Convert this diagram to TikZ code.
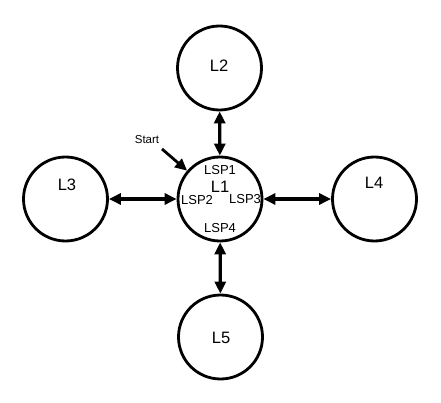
\documentclass[tikz,border=0pt]{standalone}
\usepackage{fontspec}
\setmainfont{Liberation Sans}
\usetikzlibrary{arrows.meta}
\begin{document}
\begin{tikzpicture}[x=1pt,y=-1pt,
  router/.style={draw=black,line width=2.8pt,circle,minimum size=84pt,inner sep=0pt},
  link/.style={line width=3.2pt,{Triangle[length=12pt,width=11pt]}-{Triangle[length=12pt,width=11pt]}},
  big/.style={font=\fontsize{16.5}{16}\selectfont,inner sep=0pt},
  lsp/.style={font=\fontsize{13}{13}\selectfont,inner sep=0pt}]
\useasboundingbox[fill=white] (0,0) rectangle (441,403);
\node[router] (L1) at (220,199) {};
\node[router] (L2) at (219.5,68) {};
\node[router] (L3) at (65.5,199) {};
\node[router] (L4) at (374.5,199) {};
\node[router] (L5) at (220.5,337) {};
\node[big] (t2) at (219,66) {L2};
\node[big] (t3) at (67,185) {L3};
\node[big] (t4) at (374,183) {L4};
\node[big] (t5) at (221,338) {L5};
\node[big] (t1) at (220,187) {L1};
\node[lsp] (p1) at (220,170) {LSP1};
\node[lsp] (p2) at (197,200) {LSP2};
\node[lsp] (p3) at (245,199) {LSP3};
\node[lsp] (p4) at (220,228) {LSP4};
\node[font=\fontsize{11.5}{11}\selectfont,inner sep=0pt] (st) at (147,140) {Start};
\coordinate (s0) at (162,149);
\draw[line width=2.8pt,-{Triangle[length=12pt,width=11pt]}] (s0) -- (L1);
\draw[link] (L2) -- (L1);
\draw[link] (L3) -- (L1);
\draw[link] (L1) -- (L4);
\draw[link] (L1) -- (L5);
\end{tikzpicture}
\end{document}
